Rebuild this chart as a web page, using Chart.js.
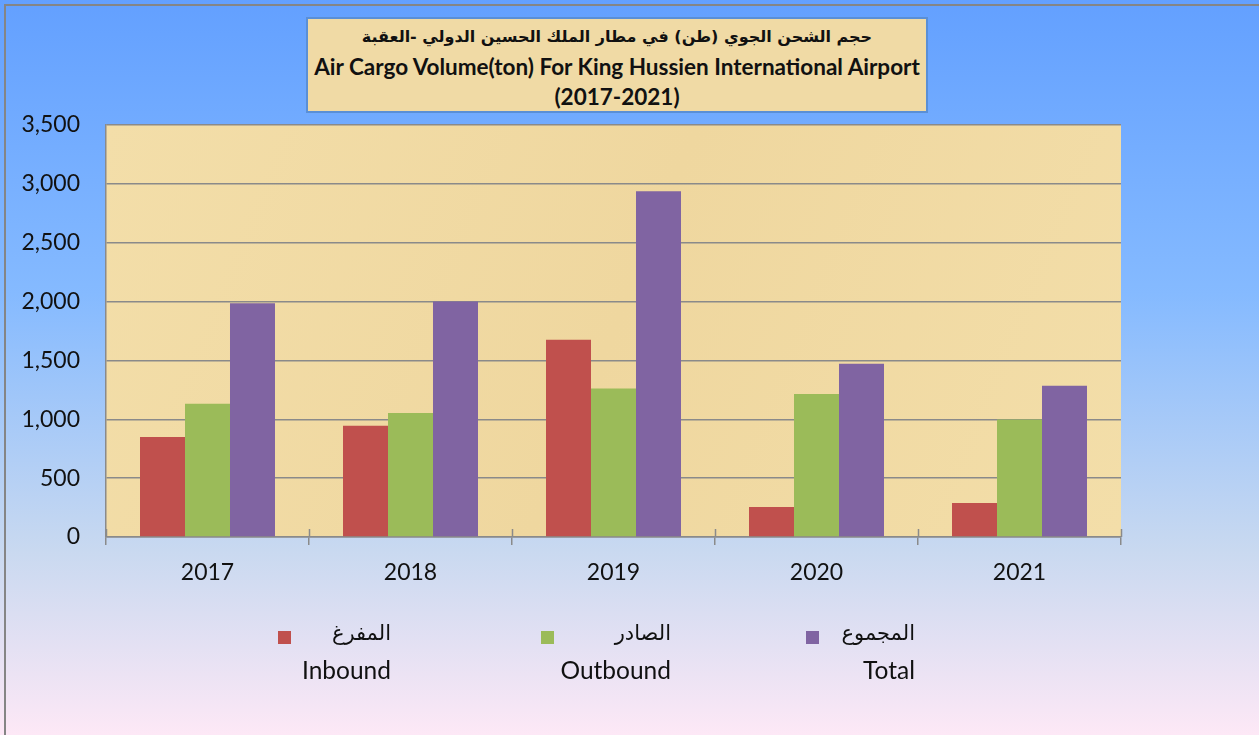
<!DOCTYPE html>
<html>
<head>
<meta charset="utf-8">
<script src="https://cdn.jsdelivr.net/npm/chart.js@4/dist/chart.umd.min.js"></script>
<style>
    html, body {
        margin: 0;
        padding: 0;
        width: 1259px;
        height: 735px;
        overflow: hidden;
    }
    body {
        position: relative;
        background: linear-gradient(to bottom, #63a0ff 0%, #85baff 40%, #c9d9f0 75%, #fde8f6 100%);
        font-family: Lato, "Open Sans", sans-serif;
    }
    .frame {
        position: absolute;
        left: 4px;
        top: 4px;
        width: 1300px;
        height: 800px;
        border-left: 2px solid #858585;
        border-top: 2px solid #858585;
    }
    .chart-box {
        position: absolute;
        left: 0;
        top: 0;
        width: 1259px;
        height: 735px;
    }
    .title-box {
        position: absolute;
        left: 306px;
        top: 17px;
        width: 618px;
        height: 92px;
        border: 2px solid #5a8fd6;
        background: #f0daa5;
        text-align: center;
        font-weight: bold;
        color: #111;
    }
    .title-box div {
        height: 30px;
        line-height: 30px;
    }
    .title-ar {
        font-family: "DejaVu Sans", sans-serif;
        font-size: 16px;
        padding-top: 3px;
    }
    .title-en {
        font-family: Lato, sans-serif;
        font-size: 22.5px;
    }
    .legend-sq {
        position: absolute;
        width: 13px;
        height: 13px;
    }
    .legend-txt {
        position: absolute;
        text-align: right;
        white-space: nowrap;
        color: #111;
    }
    .legend-ar {
        font-family: "DejaVu Sans", sans-serif;
        font-size: 21px;
    }
    .legend-en {
        font-family: Lato, sans-serif;
        font-size: 24.5px;
    }
</style>
</head>
<body>
<div class="frame"></div>
<div class="chart-box"><canvas id="myChart"></canvas></div>
<div class="title-box">
    <div class="title-ar" dir="rtl">حجم الشحن الجوي (طن) في مطار الملك الحسين الدولي -العقبة</div>
    <div class="title-en">Air Cargo Volume(ton) For King Hussien International Airport</div>
    <div class="title-en">(2017-2021)</div>
</div>
<div id="legend"></div>
<script>
const years = ["2017", "2018", "2019", "2020", "2021"];
const inbound = [850, 945, 1675, 255, 289];
const outbound = [1132, 1053, 1262, 1214, 999];
const total = [1985, 2000, 2937, 1471, 1284];
const seriesAr = ["المفرغ", "الصادر", "المجموع"];
const seriesEn = ["Inbound", "Outbound", "Total"];
const colors = ["#c0504d", "#9bbb59", "#8064a2"];
const yTicks = [0, 500, 1000, 1500, 2000, 2500, 3000, 3500];

// legend layout (right edge of text, left of square)
const legendRight = [391, 671, 915];
const legendSquare = [278, 541, 806];

const legend = document.getElementById("legend");
seriesEn.forEach((name, i) => {
    const sq = document.createElement("div");
    sq.className = "legend-sq";
    sq.style.left = legendSquare[i] + "px";
    sq.style.top = "631px";
    sq.style.background = colors[i];
    legend.appendChild(sq);

    const ar = document.createElement("div");
    ar.className = "legend-txt legend-ar";
    ar.style.right = (1259 - legendRight[i]) + "px";
    ar.style.top = "621px";
    ar.textContent = seriesAr[i];
    legend.appendChild(ar);

    const en = document.createElement("div");
    en.className = "legend-txt legend-en";
    en.style.right = (1259 - legendRight[i]) + "px";
    en.style.top = "655px";
    en.textContent = name;
    legend.appendChild(en);
});

// plot background + inner halves of x tick marks
const plotArea = {
    id: "plotArea",
    beforeDraw(chart) {
        const { ctx, chartArea: a } = chart;
        ctx.save();
        const g = ctx.createLinearGradient(a.left, a.top, a.right, a.bottom);
        g.addColorStop(0, "#f3dea9");
        g.addColorStop(0.5, "#efd79f");
        g.addColorStop(1, "#f3dea9");
        ctx.fillStyle = g;
        ctx.fillRect(a.left, a.top, a.right - a.left, a.bottom - a.top);
        ctx.restore();
    },
    afterDraw(chart) {
        const { ctx, chartArea: a } = chart;
        const n = years.length;
        ctx.save();
        ctx.strokeStyle = "#8a8a8a";
        ctx.lineWidth = 1.5;
        for (let i = 0; i <= n; i++) {
            const x = Math.round(a.left + (a.right - a.left) * i / n) + 0.5;
            ctx.beginPath();
            ctx.moveTo(x, a.bottom);
            ctx.lineTo(x, a.bottom - 8);
            ctx.stroke();
        }
        ctx.restore();
    }
};

const data = {
    labels: years,
    datasets: [inbound, outbound, total].map((values, i) => ({
        label: seriesEn[i],
        data: values,
        backgroundColor: colors[i],
        borderColor: colors[i],
        borderWidth: 0,
        barPercentage: 1,
        categoryPercentage: 0.665
    }))
};

const config = {
    type: "bar",
    data,
    options: {
        responsive: true,
        maintainAspectRatio: false,
        animation: false,
        layout: {
            padding: { top: 125, right: 138, bottom: 0, left: 0 }
        },
        plugins: {
            legend: { display: false },
            title: { display: false },
            tooltip: { enabled: false }
        },
        scales: {
            x: {
                offset: true,
                afterFit: scale => { scale.height = 198; },
                grid: {
                    drawOnChartArea: false,
                    tickLength: 8,
                    color: "#8a8a8a",
                    lineWidth: 1.5
                },
                border: { color: "#8a8a8a", width: 1.5 },
                ticks: {
                    color: "#111",
                    padding: 14,
                    font: { family: "Lato", size: 23 }
                }
            },
            y: {
                min: 0,
                max: 3500,
                afterFit: scale => { scale.width = 106; },
                afterBuildTicks: scale => {
                    scale.ticks = yTicks.map(v => ({ value: v }));
                },
                grid: {
                    drawTicks: false,
                    color: "#8a8a8a",
                    lineWidth: 1.5
                },
                border: { color: "#8a8a8a", width: 1.5 },
                ticks: {
                    color: "#111",
                    padding: 26,
                    font: { family: "Lato", size: 23 },
                    callback: v => v.toLocaleString("en-US")
                }
            }
        }
    },
    plugins: [plotArea]
};

new Chart(document.getElementById("myChart"), config);
</script>
</body>
</html>
